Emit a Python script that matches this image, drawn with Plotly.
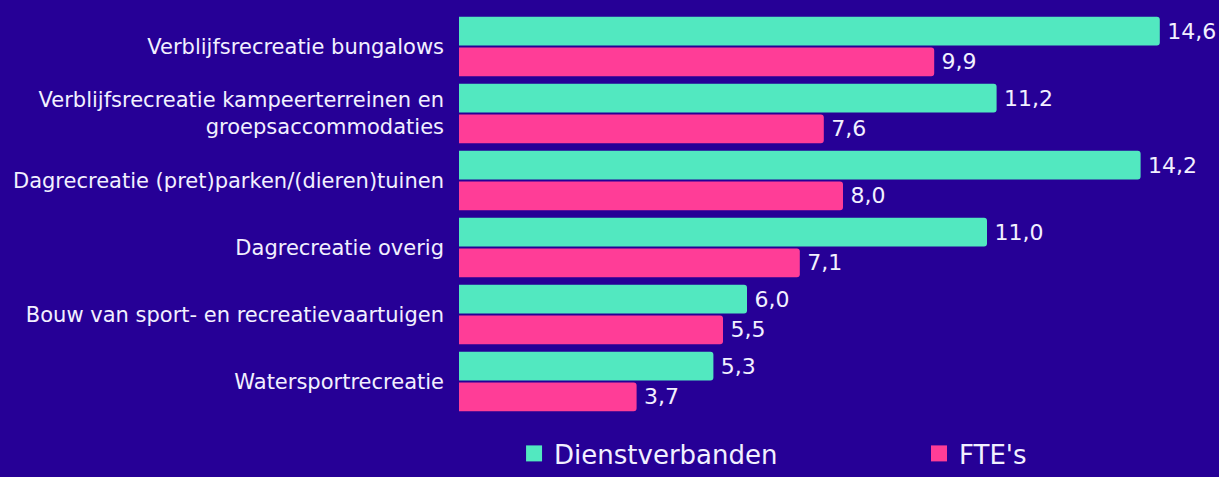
import plotly.graph_objects as go

# data
categories = [
    "Verblijfsrecreatie bungalows",
    "Verblijfsrecreatie kampeerterreinen en<br>groepsaccommodaties",
    "Dagrecreatie (pret)parken/(dieren)tuinen",
    "Dagrecreatie overig",
    "Bouw van sport- en recreatievaartuigen",
    "Watersportrecreatie",
]
dienstverbanden = [14.6, 11.2, 14.2, 11.0, 6.0, 5.3]
ftes = [9.9, 7.6, 8.0, 7.1, 5.5, 3.7]

bg = "#260096"
teal = "#52e8c0"
pink = "#ff3d97"
txt = "#f2f0ff"
font = "DejaVu Sans"

# thin space in front of the value gives a bit more room after the bar
fig = go.Figure()
fig.add_trace(go.Bar(y=categories, x=dienstverbanden, orientation="h",
                     marker=dict(color=teal, cornerradius=3, line=dict(width=0)),
                     texttemplate="\u2009%{x:.1f}", textposition="outside",
                     textfont=dict(color=txt, size=22, family=font),
                     cliponaxis=False, showlegend=False))
fig.add_trace(go.Bar(y=categories, x=ftes, orientation="h",
                     marker=dict(color=pink, cornerradius=3, line=dict(width=0)),
                     texttemplate="\u2009%{x:.1f}", textposition="outside",
                     textfont=dict(color=txt, size=22, family=font),
                     cliponaxis=False, showlegend=False))

# legend entries with bigger squares, one legend each so they sit far apart
fig.add_trace(go.Scatter(x=[None], y=[None], mode="markers", name="Dienstverbanden",
                         marker=dict(symbol="square", size=16, color=teal),
                         legend="legend"))
fig.add_trace(go.Scatter(x=[None], y=[None], mode="markers", name="FTE's",
                         marker=dict(symbol="square", size=16, color=pink),
                         legend="legend2"))

leg = dict(orientation="h", xref="container", yref="container",
           y=0.0, xanchor="left", yanchor="bottom",
           font=dict(color=txt, size=26, family=font),
           bgcolor="rgba(0,0,0,0)")

fig.update_layout(
    width=1219, height=477,
    margin=dict(l=459, r=0, t=13, b=62),
    paper_bgcolor=bg, plot_bgcolor=bg,
    separators=",.",
    barmode="group", bargap=0.08, bargroupgap=0.07,
    legend=dict(leg, x=0.4217),
    legend2=dict(leg, x=0.7539),
    font=dict(family=font, color=txt),
)
fig.update_xaxes(range=[0, 760 / 48], visible=False, showgrid=False, zeroline=False)
fig.update_yaxes(autorange="reversed", showgrid=False, zeroline=False,
                 showline=False, ticks="", ticklabelstandoff=14,
                 tickfont=dict(color=txt, size=21, family=font))

fig.write_html("out.html", config={"displayModeBar": False},
               post_script="document.body.style.margin='0';")
